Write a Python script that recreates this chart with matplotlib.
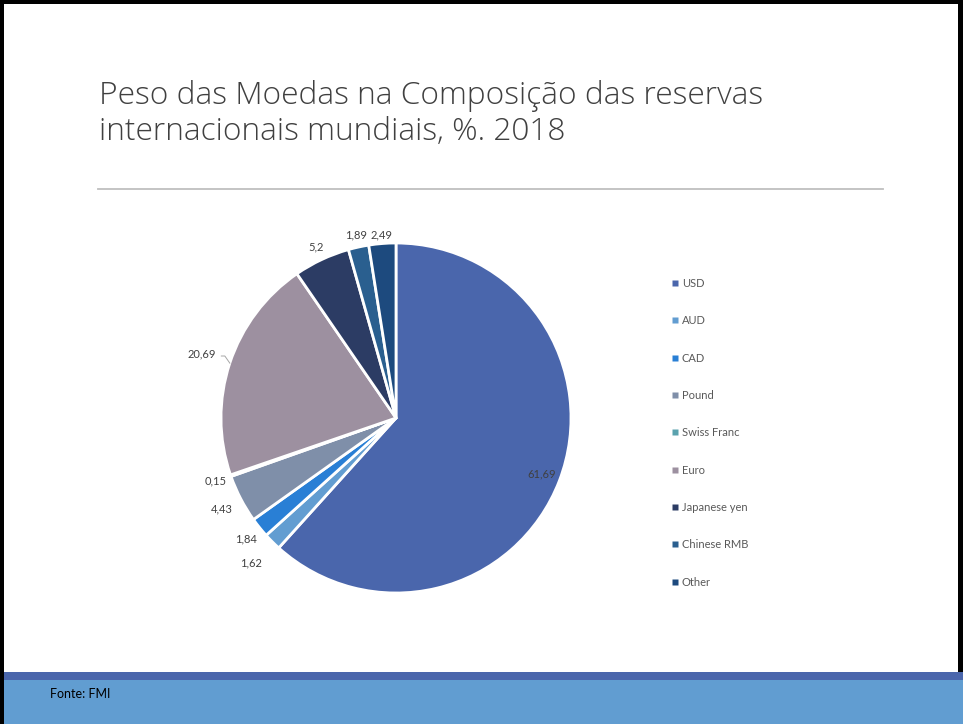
import numpy as np
import matplotlib.pyplot as plt
from matplotlib.patches import Rectangle
from matplotlib.lines import Line2D

# Composição das reservas internacionais, 2018 (%)
moedas = ["USD", "AUD", "CAD", "Pound", "Swiss Franc", "Euro",
          "Japanese yen", "Chinese RMB", "Other"]
pesos = [61.69, 1.62, 1.84, 4.43, 0.15, 20.69, 5.2, 1.89, 2.49]
cores = ["#4A66AC", "#629DD1", "#297FD5", "#7F8FA9", "#5AA2AE",
         "#9D90A0", "#2C3C64", "#2A5F8F", "#1D4A7E"]
# distance of each data label from the centre (pie radius = 1)
dist_rotulo = [0.89, 1.17, 1.10, 1.12, 1.09, 1.17, 1.08, 1.07, 1.05]

W, H = 963, 724
fig = plt.figure(figsize=(W / 100, H / 100), dpi=100)
fig.patch.set_facecolor("white")


def px(x0, y0, w, h):
    # pixel box (top-left origin) -> figure fraction rect
    return (x0 / W, 1 - (y0 + h) / H, w / W, h / H)


def caixa(x0, y0, w, h, cor):
    x, y, ww, hh = px(x0, y0, w, h)
    fig.add_artist(Rectangle((x, y), ww, hh, transform=fig.transFigure,
                             facecolor=cor, edgecolor="none", zorder=0))


# slide frame and footer bands
caixa(0, 0, 4, H, "black")
caixa(0, 0, W, 4, "black")
caixa(W - 5, 0, 5, 672, "black")
caixa(4, 672, W - 4, 8, "#4A66AC")
caixa(4, 680, W - 4, 44, "#619DD1")

fig.text(99 / W, 1 - 80 / H,
         "Peso das Moedas na Composição das reservas\ninternacionais mundiais, %. 2018",
         ha="left", va="top", fontsize=22.8, family="Open Sans", fontweight="light",
         color="#404040", linespacing=1.16)
fig.add_artist(Line2D([98 / W, 883 / W], [1 - 189 / H, 1 - 189 / H],
                      transform=fig.transFigure, color="#BFBFBF", lw=1.3))
fig.text(50 / W, 1 - 694 / H, "Fonte: FMI", ha="left", va="center",
         fontsize=9, family="Lato", color="black")

# pie
cx, cy, r = 396, 418, 175
ax = fig.add_axes(px(cx - r, cy - r, 2 * r, 2 * r))
wedges, _ = ax.pie(pesos, colors=cores, startangle=90, counterclock=False,
                   radius=1, wedgeprops=dict(edgecolor="white", linewidth=2))
ax.set_xlim(-1, 1)
ax.set_ylim(-1, 1)
ax.set_aspect("equal")
ax.axis("off")

for w, v, d in zip(wedges, pesos, dist_rotulo):
    ang = np.deg2rad((w.theta1 + w.theta2) / 2)
    txt = f"{v:g}".replace(".", ",")
    ax.text(d * np.cos(ang), d * np.sin(ang), txt, ha="center", va="center",
            fontsize=8, family="Lato", color="#404040", clip_on=False)

# small leader line for the Euro label
w = wedges[moedas.index("Euro")]
ang = np.deg2rad((w.theta1 + w.theta2) / 2)
ex, ey = np.cos(ang), np.sin(ang)
ax.plot([ex * 1.03 - 0.02, ex * 1.03, ex * 1.0], [ey * 1.13, ey * 1.13, ey * 1.0],
        color="#A6A6A6", lw=0.7, clip_on=False)

# legend
handles = [Line2D([], [], linestyle="none", marker="s", markersize=4,
                  markerfacecolor=c, markeredgecolor="none") for c in cores]
fig.legend(handles, moedas, loc="upper left",
           bbox_to_anchor=(672 / W, 1 - 278 / H), frameon=False,
           prop={"family": "Lato", "size": 8}, labelcolor="#595959",
           handlelength=0.6, handletextpad=0.3, labelspacing=2.37,
           borderpad=0, borderaxespad=0)

fig.savefig("out.png", dpi=100, facecolor="white")
